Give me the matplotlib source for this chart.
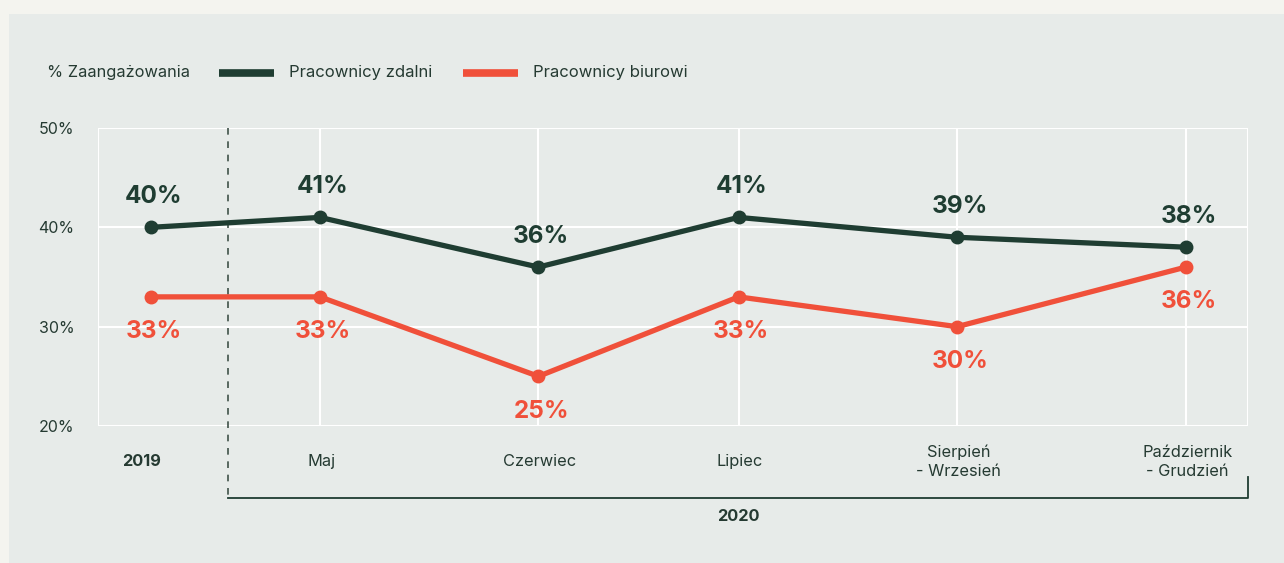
import matplotlib.pyplot as plt
from matplotlib.patches import Rectangle

plt.rcParams['font.family'] = ['Inter', 'DejaVu Sans']

# periods along the x axis (positions are axis fractions)
periods = ["2019", "Maj", "Czerwiec", "Lipiec", "Sierpień\n- Wrzesień", "Październik\n- Grudzień"]
x_pos = [0.046, 0.193, 0.383, 0.557, 0.747, 0.946]
remote = [40, 41, 36, 41, 39, 38]
office = [33, 33, 25, 33, 30, 36]
y_ticks = [20, 30, 40, 50]

GREEN = "#1f3d32"
RED = "#f0503a"
TEXT = "#253a32"
PANEL = "#e7ebe9"

fig = plt.figure(figsize=(12.84, 5.63), dpi=100)
fig.patch.set_facecolor("#f4f4ef")
fig.add_artist(Rectangle((9 / 1284, 0), 1275 / 1284, 549 / 563,
                         transform=fig.transFigure, facecolor=PANEL,
                         edgecolor="none", zorder=0))

ax = fig.add_axes([98 / 1284, 137 / 563, 1150 / 1284, 298 / 563])
ax.set_facecolor(PANEL)
ax.set_xlim(0, 1)
ax.set_ylim(20, 50)

# grid: horizontal at every tick, vertical at 2020 periods only
for v in y_ticks:
    ax.axhline(v, color="white", lw=1.5, zorder=1)
for xp in x_pos[1:]:
    ax.axvline(xp, color="white", lw=1.5, zorder=1)
ax.axvline(0, color="white", lw=1.5, zorder=1)
ax.axvline(1, color="white", lw=1.5, zorder=1)
for s in ax.spines.values():
    s.set_visible(False)

ax.set_yticks(y_ticks)
ax.set_yticklabels([f"{v}%" for v in y_ticks], fontsize=11.5, color=TEXT)
ax.tick_params(axis="y", length=0, pad=17)
ax.set_xticks([])

ax.plot(x_pos, remote, color=GREEN, lw=3.8, marker="o", ms=9, zorder=3,
        solid_capstyle="round")
ax.plot(x_pos, office, color=RED, lw=3.8, marker="o", ms=9, zorder=3,
        solid_capstyle="round")

# value labels: remote above, office below
for xp, r, o in zip(x_pos, remote, office):
    ax.annotate(f"{r}%", (xp, r), xytext=(2, 22), textcoords="offset points",
                ha="center", va="center", fontsize=17.5, fontweight="bold",
                color=GREEN)
    ax.annotate(f"{o}%", (xp, o), xytext=(2, -25), textcoords="offset points",
                ha="center", va="center", fontsize=17.5, fontweight="bold",
                color=RED)

# period labels below the plot
trans = ax.get_xaxis_transform()
for i, (xp, lab) in enumerate(zip(x_pos, periods)):
    ax.annotate(lab, (xp, -0.12), xycoords=trans,
                xytext=(-7 if i == 0 else 1, 0), textcoords="offset points",
                ha="center", va="center", fontsize=11.8, color=TEXT,
                linespacing=1.3, fontweight="bold" if i == 0 else "normal")

# 2019 / 2020 separator and bracket
sep = 130 / 1150
ax.plot([sep, sep], [1.0, -0.24], transform=trans, color="#3f5249", lw=1.2,
        ls=(0, (4, 4)), clip_on=False, zorder=2)
ax.plot([sep, 1.0, 1.0], [-0.24, -0.24, -0.17], transform=trans, color=GREEN,
        lw=1.3, clip_on=False)
ax.text(x_pos[3], -0.305, "2020", transform=trans, ha="center", va="center",
        fontsize=11.8, fontweight="bold", color=TEXT)

# legend row
fig.text(47 / 1284, 1 - 73 / 563, "% Zaangażowania", fontsize=11.8,
         color=TEXT, va="center")
for x0, col, lab in [(219, GREEN, "Pracownicy zdalni"),
                     (463, RED, "Pracownicy biurowi")]:
    fig.add_artist(plt.Line2D([x0 / 1284, (x0 + 55) / 1284],
                              [1 - 73 / 563] * 2, color=col, lw=5.5,
                              solid_capstyle="butt",
                              transform=fig.transFigure))
    fig.text((x0 + 70) / 1284, 1 - 73 / 563, lab, fontsize=12,
             color=TEXT, va="center")

fig.savefig("out.png", dpi=100, facecolor=fig.get_facecolor())
